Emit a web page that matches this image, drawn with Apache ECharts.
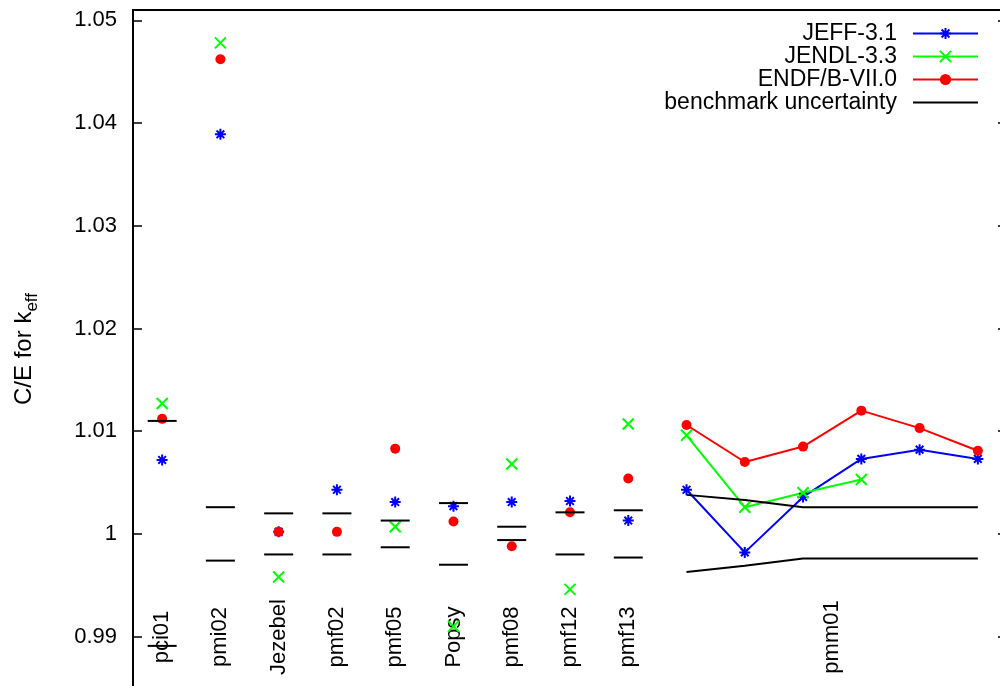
<!DOCTYPE html>
<html><head><meta charset="utf-8">
<script src="https://cdn.jsdelivr.net/npm/echarts@6/dist/echarts.min.js"></script>
<style>html,body{margin:0;padding:0;background:#fff;overflow:hidden;width:1000px;height:686px}#c{width:1007px;height:688px}</style>
</head><body><div id="c"></div>
<script>
// ---- data ----
const categories = ['pci01','pmi02','Jezebel','pmf02','pmf05','Popsy','pmf08','pmf12','pmf13'];
const jeff  = [1.0072, 1.0389, 1.0002, 1.0043, 1.0031, 1.0027, 1.0031, 1.0032, 1.0013];
const jendl = [1.0127, 1.0478, 0.9958, null, 1.0007, 0.9910, 1.0068, 0.9946, 1.0107];
const endf  = [1.0112, 1.0462, 1.0002, 1.0002, 1.0083, 1.0012, 0.9988, 1.0021, 1.0054];
const benchHigh = [1.0110, 1.0026, 1.0020, 1.0020, 1.0013, 1.0030, 1.0007, 1.0021, 1.0023];
const benchLow  = [0.9891, 0.9974, 0.9980, 0.9980, 0.9987, 0.9970, 0.9994, 0.9980, 0.9977];

const pmmLabel = 'pmm01';
const pmmJeff  = [1.0043, 0.9982, 1.0036, 1.0073, 1.0082, 1.0073];
const pmmJendl = [1.0096, 1.0026, 1.0040, 1.0053];
const pmmEndf  = [1.0106, 1.0070, 1.0085, 1.0120, 1.0103, 1.0081];
const pmmBenchHigh = [1.0038, 1.0033, 1.0026, 1.0026, 1.0026, 1.0026];
const pmmBenchLow  = [0.9963, 0.9969, 0.9976, 0.9976, 0.9976, 0.9976];

const yTicks = [0.99, 1.00, 1.01, 1.02, 1.03, 1.04, 1.05];
const seriesNames = ['JEFF-3.1', 'JENDL-3.3', 'ENDF/B-VII.0', 'benchmark uncertainty'];

// ---- positions along x (index based) ----
const catX = categories.map((c, i) => i + 1);
const pmmX = pmmJeff.map((v, i) => categories.length + 1 + i);
const pmmLabelX = (pmmX[0] + pmmX[pmmX.length - 1]) / 2;
const xTickValues = catX.concat([pmmLabelX]);
const xTickLabels = categories.concat([pmmLabel]);

const pairs = (xs, ys) => ys.map((y, i) => [xs[i], y]).filter(p => p[1] !== null);

const FONT = '"Liberation Sans", Arial, sans-serif';
const STAR = 'path://M5,0L5,10M0,5L10,5M1.5,1.5L8.5,8.5M8.5,1.5L1.5,8.5';
const CROSS = 'path://M0,0L10,10M10,0L0,10';
const LEGEND_LINE = 'path://M0,0L65,0L65,2L0,2Z';

const styles = [
  {color: '#0000ff', symbol: STAR, size: 11},
  {color: '#00ff00', symbol: CROSS, size: 11},
  {color: '#ff0000', symbol: 'circle', size: 10}
];
const catData = [jeff, jendl, endf];
const pmmData = [pmmJeff, pmmJendl, pmmEndf];

const series = [];
styles.forEach((s, k) => {
  series.push({
    name: seriesNames[k], type: 'line', data: pairs(pmmX, pmmData[k]),
    symbol: s.symbol, symbolSize: s.size, symbolKeepAspect: true, showAllSymbol: true,
    lineStyle: {color: s.color, width: 2},
    itemStyle: {color: s.color, borderColor: s.color, borderWidth: s.symbol === 'circle' ? 0 : 2},
    emphasis: {disabled: true}, z: 2
  });
});
[pmmBenchHigh, pmmBenchLow].forEach(arr => {
  series.push({
    name: seriesNames[3], type: 'line', data: pairs(pmmX, arr),
    symbol: 'circle', showSymbol: false, symbolSize: 2,
    lineStyle: {color: '#000', width: 2},
    itemStyle: {color: '#000', borderWidth: 0},
    emphasis: {disabled: true}, z: 2
  });
});
styles.forEach((s, k) => {
  series.push({
    name: seriesNames[k], type: 'scatter', data: pairs(catX, catData[k]),
    symbol: s.symbol, symbolSize: s.size, symbolKeepAspect: true,
    itemStyle: {color: s.color, borderColor: s.color, borderWidth: s.symbol === 'circle' ? 0 : 2, opacity: 1},
    emphasis: {disabled: true}, z: 3
  });
});
[benchHigh, benchLow].forEach(arr => {
  series.push({
    name: seriesNames[3], type: 'scatter', data: pairs(catX, arr),
    symbol: 'rect', symbolSize: [29, 2],
    itemStyle: {color: '#000', opacity: 1},
    emphasis: {disabled: true}, z: 4
  });
});

const legendData = seriesNames.map((n, k) => k === 3 ? {name: n, icon: LEGEND_LINE} : {name: n});

const chart = echarts.init(document.getElementById('c'), null, {renderer: 'canvas'});
chart.setOption({
  animation: false,
  backgroundColor: '#fff',
  grid: {left: 133, right: 0, top: 10, bottom: 0, show: true, borderColor: '#000', borderWidth: 2, backgroundColor: 'transparent'},
  legend: {
    data: legendData, orient: 'vertical', align: 'right', right: 28, top: 22,
    padding: [0, 0, 0, 0], symbolKeepAspect: true,
    itemWidth: 65, itemHeight: 14, itemGap: 0, selectedMode: false,
    textStyle: {fontSize: 23, lineHeight: 23, color: '#000', fontFamily: FONT, padding: [0, 11, 0, 0]}
  },
  xAxis: {
    type: 'value', min: 0.5, max: 15.5,
    axisLine: {show: false}, axisTick: {show: false}, splitLine: {show: false},
    axisLabel: {
      customValues: xTickValues,
      formatter: v => { const i = xTickValues.indexOf(v); return i >= 0 ? xTickLabels[i] : ''; },
      inside: true, margin: 51, rotate: 90, align: 'center', verticalAlign: 'middle',
      fontSize: 22, color: '#000', fontFamily: FONT
    }
  },
  yAxis: [{
    type: 'value', min: 0.985, max: 1.051, position: 'left',
    name: '{a|C/E for k}{b|eff}', nameLocation: 'middle', nameRotate: 90, nameGap: 97,
    nameTextStyle: {
      color: '#000', fontFamily: FONT,
      rich: {
        a: {fontSize: 24, lineHeight: 24, verticalAlign: 'top', color: '#000', fontFamily: FONT},
        b: {fontSize: 17, lineHeight: 17, verticalAlign: 'top', padding: [12, 0, 0, 0], color: '#000', fontFamily: FONT}
      }
    },
    axisLine: {show: false}, splitLine: {show: false},
    axisTick: {show: true, inside: true, length: 9, customValues: yTicks, lineStyle: {color: '#000', width: 1.5}},
    axisLabel: {customValues: yTicks, formatter: v => String(+v.toFixed(2)), fontSize: 22, color: '#000', margin: 16, fontFamily: FONT}
  }, {
    type: 'value', min: 0.985, max: 1.051, position: 'right',
    axisLine: {show: false}, splitLine: {show: false},
    axisTick: {show: true, inside: true, length: 9, customValues: yTicks, lineStyle: {color: '#000', width: 1.5}},
    axisLabel: {show: false}
  }],
  series: series
});
</script></body></html>
